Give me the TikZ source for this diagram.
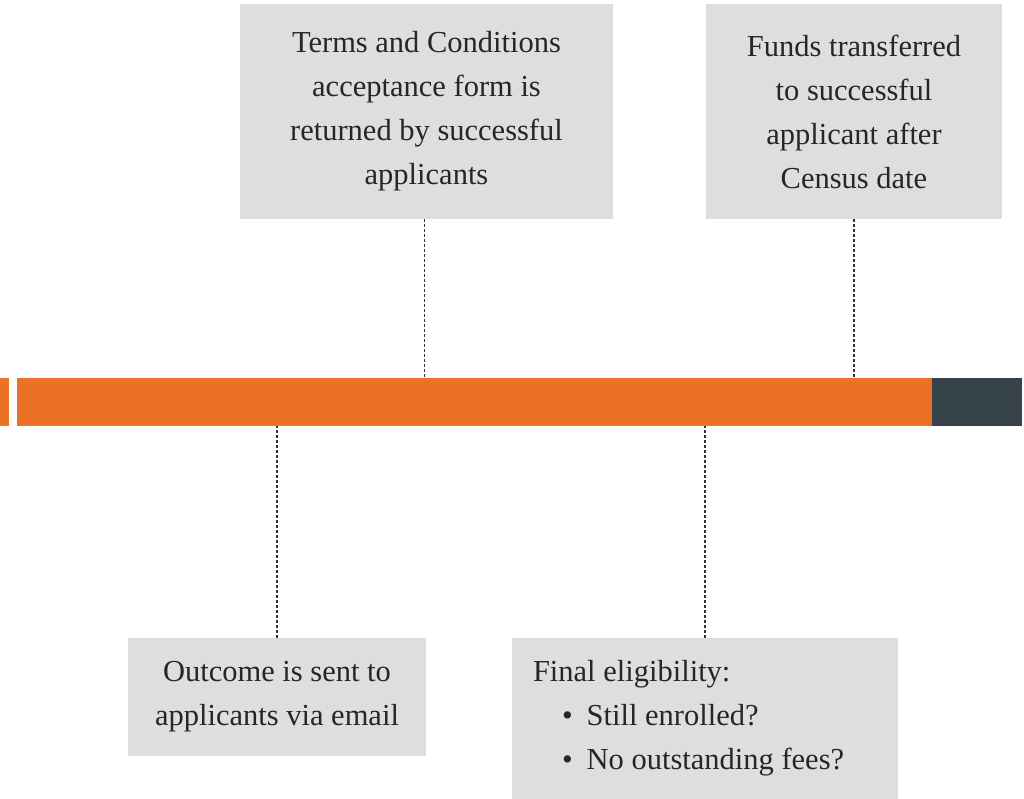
\documentclass[tikz,border=0pt]{standalone}
\usepackage{fontspec}
\setmainfont{Liberation Serif}
\usetikzlibrary{positioning}

\definecolor{barorange}{HTML}{EA7125}
\definecolor{bardark}{HTML}{37434B}
\definecolor{boxgrey}{HTML}{DEDEDE}

\newcommand{\bitem}[1]{\hspace*{29pt}\textbullet\hspace{14pt}#1}

\begin{document}
\begin{tikzpicture}[x=1pt, y=-1pt,
	infobox/.style={rectangle, fill=boxgrey, inner sep=0pt, align=center,
		font=\fontsize{30.5}{44}\selectfont, text=black!85},
	barseg/.style={rectangle, inner sep=0pt, minimum height=48pt},
	leader/.style={draw=black!80, line width=1.2pt, dash pattern=on 3pt off 2pt}]
	\useasboundingbox (0,0) rectangle (1024,799);
	% timeline bar
	\node[barseg, fill=barorange, minimum width=915pt] (bar) at (474.5,402) {};
	\node[barseg, fill=barorange, minimum width=9pt] (stub) [left=8pt of bar] {};
	\node[barseg, fill=bardark, minimum width=90pt] (tail) [right=0pt of bar] {};
	% boxes above
	\node[infobox, minimum width=373pt, minimum height=215pt] (terms) at (426.5,111.5)
		{Terms and Conditions\\acceptance form is\\returned by successful\\applicants};
	\node[infobox, minimum width=296pt, minimum height=215pt] (funds) at (854,111.5)
		{Funds transferred\\to successful\\applicant after\\Census date};
	% boxes below
	\node[infobox, minimum width=298pt, minimum height=118pt] (outcome) at (277,697)
		{Outcome is sent to\\applicants via email};
	\node[infobox, minimum width=386pt, minimum height=161pt, align=flush left,
		text width=344pt] (final) at (705,718.5)
		{Final eligibility:\\\bitem{Still enrolled?}\\\bitem{No outstanding fees?}};
	% leaders
	\draw[leader] ([xshift=-2pt]terms.south) -- ([xshift=-2pt]terms.south |- bar.north);
	\draw[leader] (funds.south) -- (funds.south |- bar.north);
	\draw[leader] (outcome.north) -- (outcome.north |- bar.south);
	\draw[leader] (final.north) -- (final.north |- bar.south);
\end{tikzpicture}
\end{document}
